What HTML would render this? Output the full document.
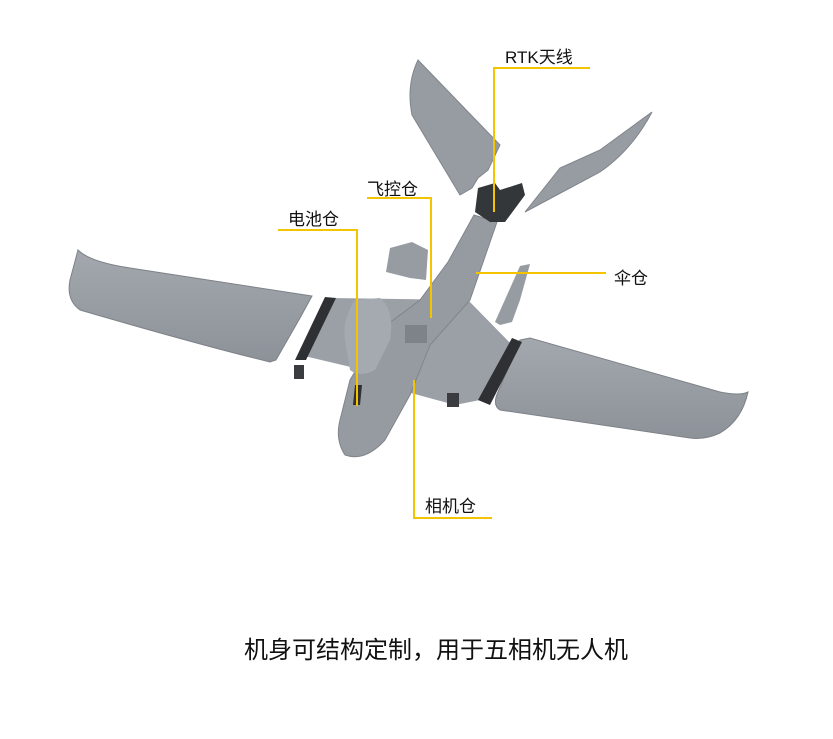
<!DOCTYPE html>
<html><head><meta charset="utf-8"><style>
html,body{margin:0;padding:0;background:#fff;}
body{width:833px;height:739px;position:relative;overflow:hidden;font-family:"Liberation Sans","Noto Sans CJK SC",sans-serif;}
.t{position:absolute;color:#111;font-size:17px;white-space:nowrap;}
</style></head><body>
<svg width="833" height="739" style="position:absolute;left:0;top:0">
<defs>
<linearGradient id="g" x1="0" y1="0" x2="0" y2="1"><stop offset="0" stop-color="#a3a8ae"/><stop offset="1" stop-color="#8d9299"/></linearGradient>
</defs>
<!-- left wing -->
<path d="M78,250 Q90,262 130,268 L312,296 L300,318 L276,360 L270,362 Q200,345 80,310 Q66,300 70,280 Z" fill="url(#g)" stroke="#7d8288" stroke-width="1"/>
<!-- right wing -->
<path d="M520,340 L530,338 L720,392 Q740,396 748,392 Q742,420 720,433 Q705,440 690,438 L500,410 Q492,405 498,392 Z" fill="url(#g)" stroke="#7d8288" stroke-width="1"/>
<!-- center section -->
<path d="M300,355 L330,298 L468,300 L512,345 L480,400 L455,405 L400,390 L372,372 Z" fill="#9ba0a7"/>
<path d="M295,360 L325,297 L336,298 L306,360 Z" fill="#2e3033"/>
<path d="M512,338 L522,342 L490,405 L478,400 Z" fill="#2e3033"/>
<rect x="294" y="365" width="10" height="14" fill="#3a3c40"/>
<rect x="447" y="393" width="12" height="14" fill="#3a3c40"/>
<!-- fuselage -->
<path d="M474,215 L497,222 L470,300 L430,345 L410,395 L385,440 Q365,462 345,455 Q335,440 340,420 L350,380 L380,330 L420,300 L448,262 Z" fill="#969ba2" stroke="#80858b" stroke-width="1"/>
<path d="M345,340 Q342,320 355,300 L380,298 Q395,310 390,340 L375,370 Q360,378 350,370 Z" fill="#a5aab0"/>
<path d="M355,385 L362,385 L360,405 L353,405 Z" fill="#2e3033"/>
<rect x="405" y="325" width="22" height="18" fill="#7e838a"/>
<!-- tail block -->
<path d="M478,188 L495,183 L500,190 L522,183 L525,195 L505,222 L490,222 L475,212 Z" fill="#34373a"/>
<!-- hatch piece -->
<path d="M390,248 L412,242 L428,250 L426,280 L410,278 L386,272 Z" fill="#979ca3"/>
<!-- small right piece -->
<path d="M495,322 L520,266 L530,264 L520,300 L512,322 L500,325 Z" fill="#979ca3"/>
<!-- fins -->
<path d="M418,60 Q406,85 412,115 L460,195 L472,188 L478,178 L488,170 L500,145 Z" fill="#979ca3" stroke="#80858b" stroke-width="1"/>
<path d="M525,212 L560,168 L600,150 L652,112 Q632,150 600,172 Z" fill="#979ca3" stroke="#80858b" stroke-width="1"/>
<!-- leader lines -->
<g stroke="#f5c400" stroke-width="2" fill="none">
<polyline points="590,68 494,68 494,212"/>
<polyline points="367,198 431,198 431,318"/>
<polyline points="278,230 357,230 357,406"/>
<polyline points="476,273 606,273"/>
<polyline points="414,380 414,518 492,518"/>
</g>
</svg>
<div class="t" style="left:505px;top:43px;">RTK天线</div>
<div class="t" style="left:367px;top:175px;">飞控仓</div>
<div class="t" style="left:288px;top:205px;">电池仓</div>
<div class="t" style="left:614px;top:264px;">伞仓</div>
<div class="t" style="left:425px;top:492px;">相机仓</div>
<div class="t" style="left:244px;top:630px;font-size:24px;">机身可结构定制，用于五相机无人机</div>
</body></html>
